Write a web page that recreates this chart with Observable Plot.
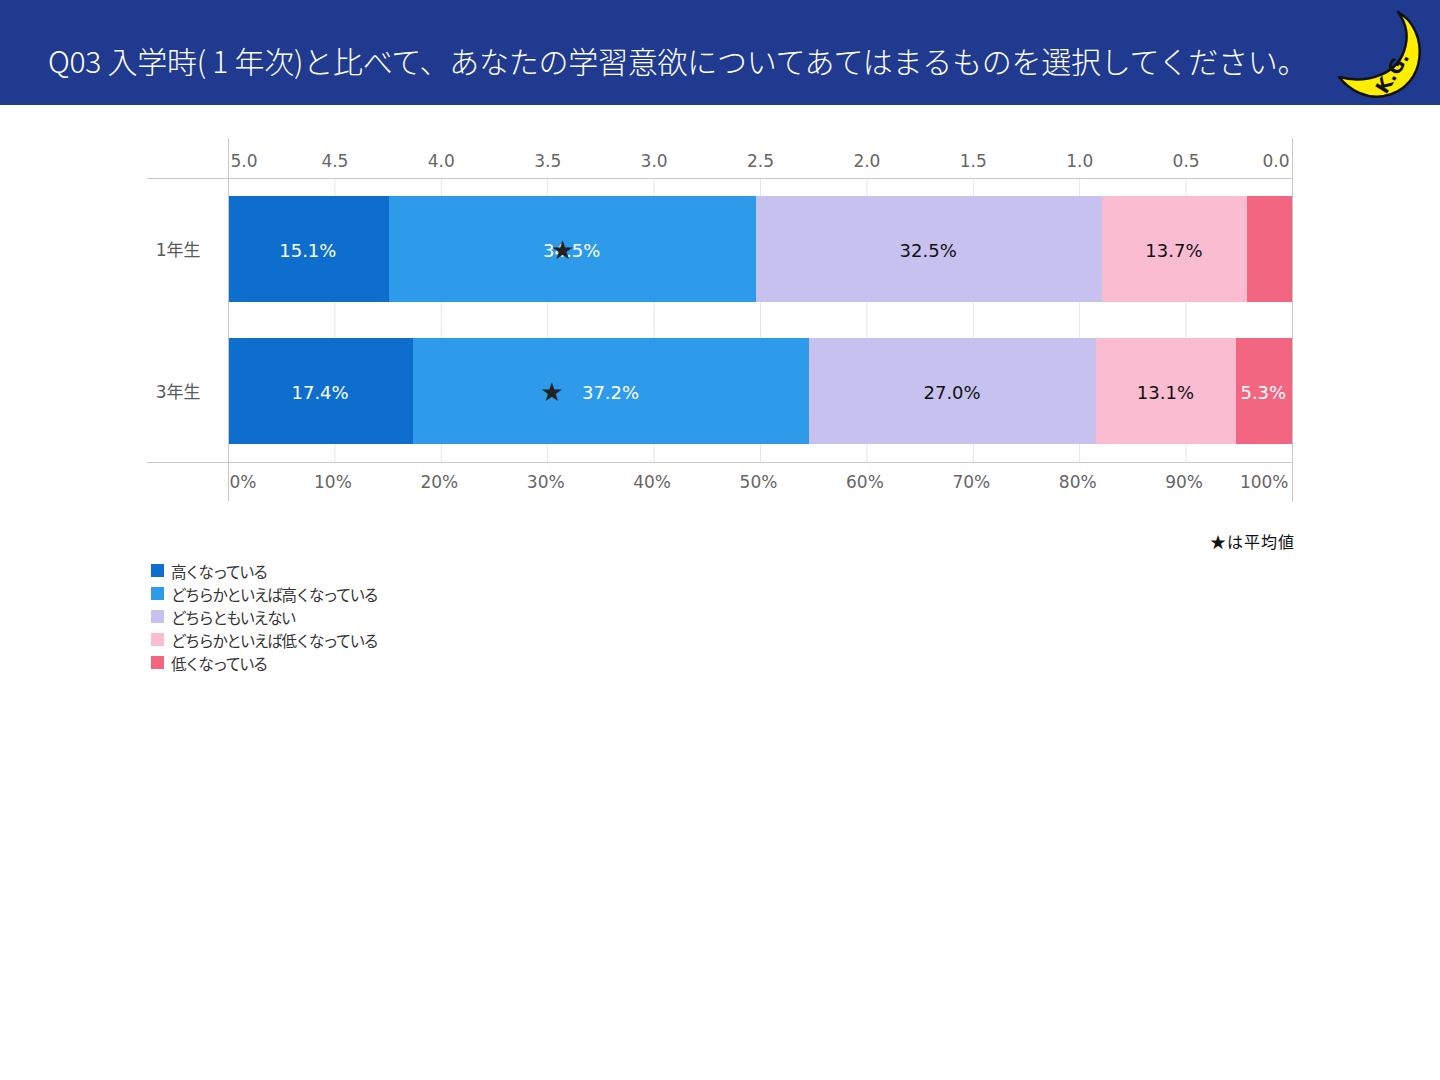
<!DOCTYPE html>
<html>
<head>
<meta charset="utf-8">
<script src="https://cdn.jsdelivr.net/npm/d3@7"></script>
<script src="https://cdn.jsdelivr.net/npm/@observablehq/plot@0.6"></script>
<style>
  html, body { margin: 0; padding: 0; background: #fff; }
  body { width: 1440px; height: 1080px; position: relative; overflow: hidden;
         font-family: "DejaVu Sans", "Noto Sans CJK JP", sans-serif; }
  #header { position: absolute; left: 0; top: 0; width: 1440px; height: 105px; background: #1f3a8f; }
  #title { position: absolute; left: 48px; top: 38px; color: #fff; font-size: 30px; line-height: 44px;
           font-family: "Noto Sans CJK JP", sans-serif; font-weight: 300; white-space: nowrap; letter-spacing: -0.25px; }
  #logo { position: absolute; left: 1330px; top: 5px; }
  #chart { position: absolute; left: 0; top: 105px; }
  #note { position: absolute; right: 145px; top: 529px; font-size: 16px; color: #111; letter-spacing: 1px;
          font-family: "Noto Sans CJK JP", sans-serif; }
  #legend { position: absolute; left: 151px; top: 559px; font-family: "Noto Sans CJK JP", sans-serif;
            font-size: 15.5px; letter-spacing: -1.7px; color: #333; }
  .item { height: 23px; display: flex; align-items: center; }
  .sw { width: 13px; height: 13px; margin-right: 7px; }
</style>
</head>
<body>
<div id="header"><div id="title"></div></div>
<svg id="logo" width="100" height="100" viewBox="0 0 100 100">
  <path d="M68,7 C99,24 99,82 54,91 C37,94 20,86 9,72 C36,79 66,70 74,46 C79,32 76,18 68,7 Z"
        fill="#ffee00" stroke="#111" stroke-width="2.5" stroke-linejoin="round"/>
  <text x="0" y="0" transform="translate(56,90) rotate(-58)" font-family="DejaVu Sans" font-weight="bold"
        font-size="19" fill="#111">K.G.</text>
</svg>
<div id="chart"></div>
<div id="note">★は平均値</div>
<div id="legend"></div>
<script>
const titleText = "Q03 入学時( 1 年次)と比べて、あなたの学習意欲についてあてはまるものを選択してください。";
const groups = ["1年生", "3年生"];
const categories = ["高くなっている", "どちらかといえば高くなっている", "どちらともいえない", "どちらかといえば低くなっている", "低くなっている"];
const colors = ["#0d6ecd", "#2d9bea", "#c7c1f0", "#f9bcd1", "#f36681"];
const labelColors = ["#fff", "#fff", "#111", "#111", "#fff"];
const values1 = [15.1, 34.5, 32.5, 13.7, 4.2];
const values3 = [17.4, 37.2, 27.0, 13.1, 5.3];
const means = [3.43, 3.48];
const pctTicks = [0, 10, 20, 30, 40, 50, 60, 70, 80, 90, 100];
const pctTickLabels = ["0%", "10%", "20%", "30%", "40%", "50%", "60%", "70%", "80%", "90%", "100%"];
const topTickLabels = ["5.0", "4.5", "4.0", "3.5", "3.0", "2.5", "2.0", "1.5", "1.0", "0.5", "0.0"];
const minLabel = 5;

document.getElementById("title").textContent = titleText;

const seriesByGroup = [values1, values3];
const data = [];
groups.forEach((g, gi) => categories.forEach((c, ci) => {
  data.push({group: g, category: c, value: seriesByGroup[gi][ci], ci});
}));
const meanData = groups.map((g, i) => ({group: g, mean: means[i]}));

const lbl = d => d.value >= minLabel ? d.value.toFixed(1) + "%" : "";
const axisFont = {fontSize: 17, fill: "#666", label: null};
const mid = pctTicks.slice(1, -1);

const chart = Plot.plot({
  width: 1440,
  height: 420,
  marginLeft: 228,
  marginRight: 148,
  marginTop: 73,
  marginBottom: 63,
  style: {fontFamily: '"DejaVu Sans", "Noto Sans CJK JP", sans-serif', background: "transparent", overflow: "visible"},
  x: {domain: [0, 100], label: null},
  y: {domain: groups, paddingInner: 0.2535, paddingOuter: 0.1268, round: false, label: null},
  color: {domain: categories, range: colors},
  marks: [
    Plot.gridX({ticks: pctTicks, stroke: "#e6e6e6", strokeOpacity: 1}),
    Plot.barX(data, Plot.stackX({x: "value", y: "group", fill: "category", order: categories, shapeRendering: "crispEdges"})),
    Plot.text(data, Plot.stackX({x: "value", y: "group", z: "category", order: categories, dy: 2, dx: -1,
      text: d => labelColors[d.ci] === "#fff" ? lbl(d) : "", fill: "#fff", fontSize: 18})),
    Plot.text(data, Plot.stackX({x: "value", y: "group", z: "category", order: categories, dy: 2, dx: -1,
      text: d => labelColors[d.ci] !== "#fff" ? lbl(d) : "", fill: "#111", fontSize: 18})),
    Plot.text(meanData, {x: d => (5 - d.mean) * 20, y: "group", text: () => "★", fontSize: 26, fill: "#222", dy: 1}),
    // frame lines
    Plot.frame({anchor: "top", stroke: "#c8c8c8", insetLeft: -81}),
    Plot.frame({anchor: "bottom", stroke: "#c8c8c8", insetLeft: -81}),
    Plot.frame({anchor: "left", stroke: "#c8c8c8", insetTop: -40, insetBottom: -38}),
    Plot.frame({anchor: "right", stroke: "#c8c8c8", insetTop: -40, insetBottom: -38}),
    // top axis (mean scale)
    Plot.axisX({anchor: "top", ticks: [0], tickSize: 0, tickPadding: 12, textAnchor: "start", dx: 2,
      tickFormat: d => topTickLabels[pctTicks.indexOf(d)], ...axisFont}),
    Plot.axisX({anchor: "top", ticks: mid, tickSize: 0, tickPadding: 12,
      tickFormat: d => topTickLabels[pctTicks.indexOf(d)], ...axisFont}),
    Plot.axisX({anchor: "top", ticks: [100], tickSize: 0, tickPadding: 12, textAnchor: "end", dx: -3,
      tickFormat: d => topTickLabels[pctTicks.indexOf(d)], ...axisFont}),
    // bottom axis (percent)
    Plot.axisX({anchor: "bottom", ticks: [0], tickSize: 0, tickPadding: 13, textAnchor: "start", dx: 1,
      tickFormat: d => pctTickLabels[pctTicks.indexOf(d)], ...axisFont}),
    Plot.axisX({anchor: "bottom", ticks: mid, tickSize: 0, tickPadding: 13, dx: -2,
      tickFormat: d => pctTickLabels[pctTicks.indexOf(d)], ...axisFont}),
    Plot.axisX({anchor: "bottom", ticks: [100], tickSize: 0, tickPadding: 13, textAnchor: "end", dx: -4,
      tickFormat: d => pctTickLabels[pctTicks.indexOf(d)], ...axisFont}),
    Plot.axisY({tickSize: 0, tickPadding: 28, label: null, fontSize: 17, fill: "#595959", dy: 1})
  ]
});
document.getElementById("chart").appendChild(chart);

const legend = document.getElementById("legend");
categories.forEach((c, i) => {
  const it = document.createElement("div");
  it.className = "item";
  it.innerHTML = `<div class="sw" style="background:${colors[i]}"></div><span>${c}</span>`;
  legend.appendChild(it);
});
</script>
</body>
</html>
